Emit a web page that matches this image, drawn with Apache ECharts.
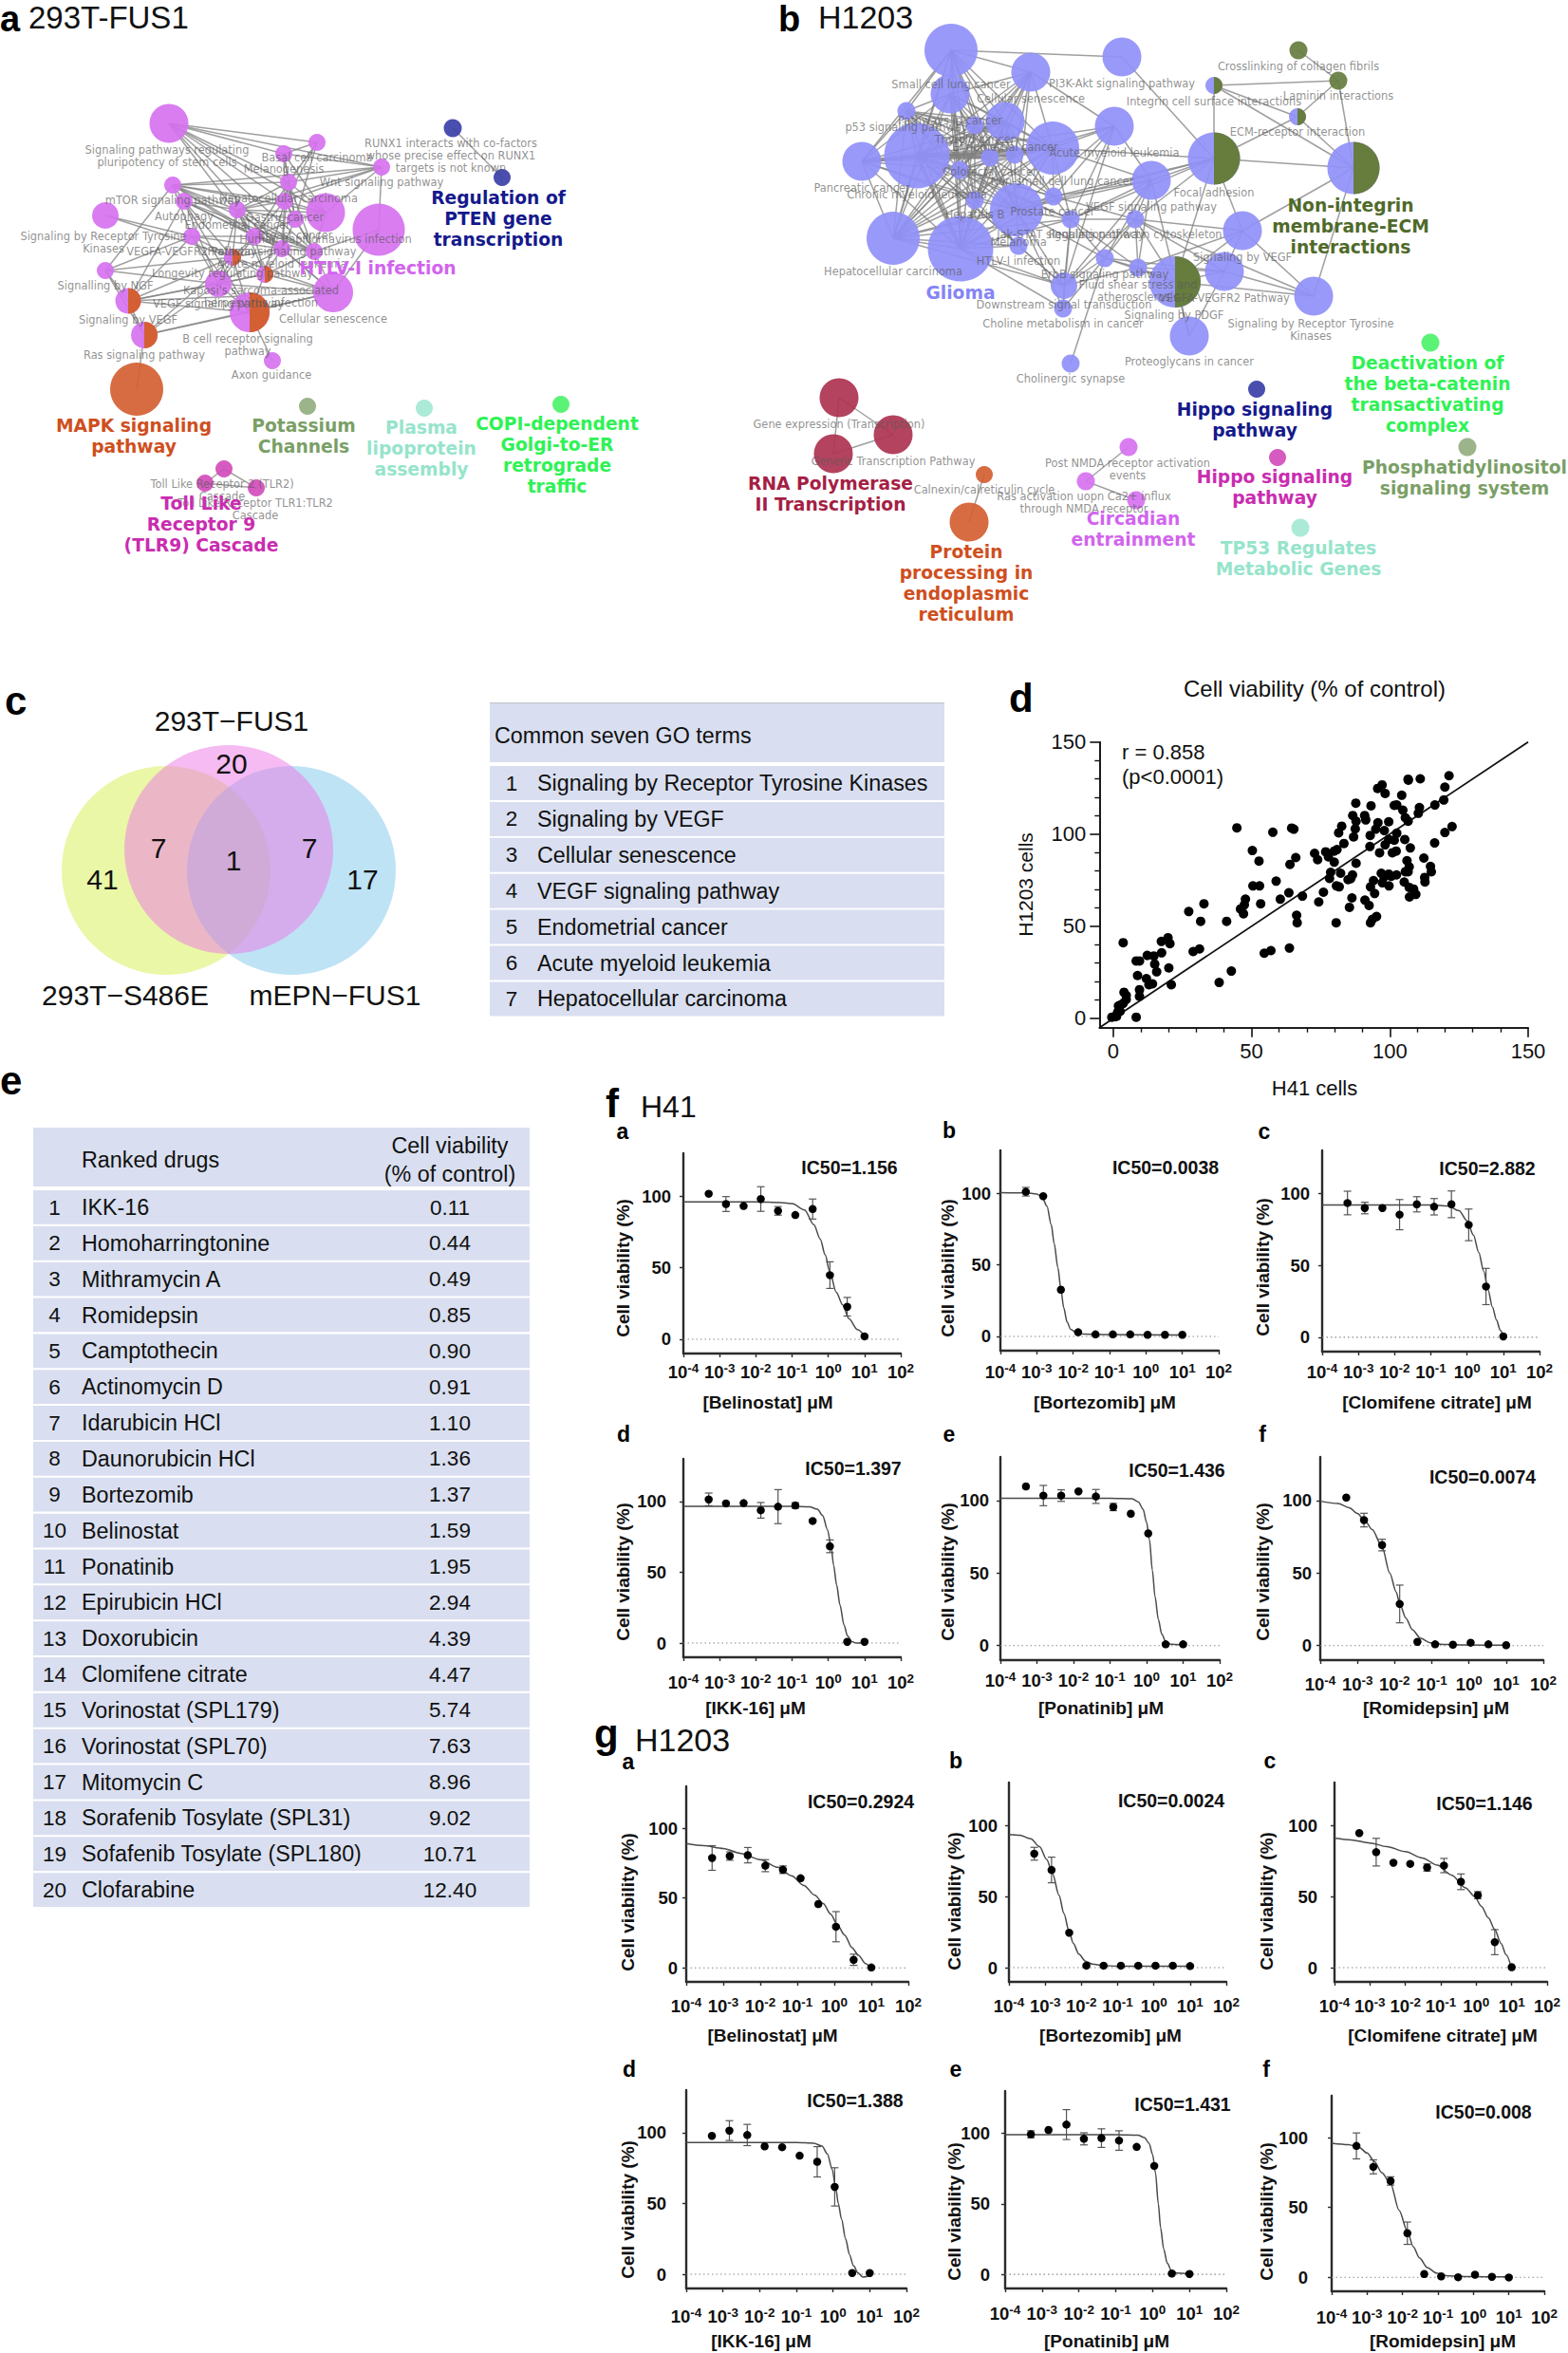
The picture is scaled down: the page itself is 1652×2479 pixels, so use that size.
<!DOCTYPE html>
<html><head><meta charset="utf-8">
<style>html,body{margin:0;padding:0;background:#fff}#c{width:1652px;height:2479px}</style>
<script src="https://cdn.jsdelivr.net/npm/echarts@6/dist/echarts.min.js"></script>
</head><body><div id="c"></div>
<script>
// ---------- DATA ----------
// Network a: [x, y, diameter, cluster]
const netANodes=[[178,130,41,'p'],[334,150,18,'p'],[299,162,18,'p'],[402,176,18,'p'],[182,195,18,'p'],[304,192,18,'p'],[194,212,18,'p'],[300,212,18,'p'],[250,221,18,'p'],[343,224,41,'p'],[399,242,55,'p'],[111,227,28,'p'],[311,231,18,'p'],[202,249,18,'p'],[268,249,18,'p'],[297,262,18,'p'],[331,265,18,'p'],[111,285,18,'p'],[245,271,18,'p'],[279,289,18,'p'],[230,299,28,'p'],[351,308,42,'p'],[135,317,27,'p'],[263,329,42,'p'],[152,353,28,'p'],[287,380,18,'p'],[144,410,56,'o'],[324,428,18,'sage'],[447,430,18,'aqua'],[591,426,18,'lime'],[477,135,19,'navy'],[529,187,18,'navy'],[236,494,18,'mag'],[216,509,18,'mag'],[270,514,18,'mag']];
const netAHalves=[[245,271,18,'o'],[279,289,18,'o'],[135,317,27,'o'],[263,329,42,'o'],[152,353,28,'o']];
const netAEdges=[[1,2,3,4,6,8,10,15,16,17],[2,3,6,8,13],[3,4,6,8,10,13],[4,5,6,8,9,10,11],[5,6,7,8,9,10,14,15,16,17,18],[6,8,9,10,13,15,16,17],[7,9,15,16,17,19,21,23,24],[8,9,10,13,15,16,17,20],[9,10,13,15,16,17,19,20,21,22],[10,13,17],[11,17,22],[12,14,19],[13,15,16,17],[14,15,16,18,19,21,23,24],[15,16,17,19,20,21],[16,17,19,20,21,22],[17,20,22],[18,19,21,23,25],[19,20,21,22,23,24,25],[20,21,22,23,24],[21,22,23,24,25],[22,23,24,25],[23,24,25],[24,25,26],[25,27],[31,32],[33,34,35],[34,35]];
// Network b
const netBNodes=[[1002,53,56,'v'],[1182,60,41,'v'],[1086,76,41,'v'],[1001,99,41,'v'],[955,117,19,'v'],[1059,128,41,'v'],[1027,132,19,'v'],[1174,133,41,'v'],[1109,156,56,'v'],[908,170,41,'v'],[966,164,69,'v'],[1043,166,19,'v'],[1069,163,19,'v'],[1011,179,19,'v'],[1213,190,41,'v'],[1027,211,19,'v'],[1110,207,19,'v'],[1071,221,56,'v'],[941,251,56,'v'],[1012,262,69,'v'],[1128,231,19,'v'],[1196,231,19,'v'],[1073,259,19,'v'],[1309,243,41,'v'],[1164,272,19,'v'],[1199,282,19,'v'],[1290,286,41,'v'],[1238,297,54,'v'],[1121,301,28,'v'],[1384,312,41,'v'],[1120,325,19,'v'],[1253,354,41,'v'],[1128,383,19,'v'],[1368,53,19,'g'],[1410,85,19,'g'],[1279,90,18,'v'],[1367,123,18,'v'],[1279,167,55,'v'],[1426,177,55,'v'],[884,419,41,'c'],[941,458,41,'c'],[878,478,41,'c'],[1037,500,18,'o'],[1021,550,41,'o'],[1189,471,19,'p'],[1144,507,19,'p'],[1197,527,19,'p'],[1324,410,18,'navy'],[1507,361,19,'lime'],[1546,471,19,'sage'],[1346,482,18,'mag'],[1370,556,19,'aqua']];
const netBHalves=[[1238,297,54,'g'],[1279,90,18,'g'],[1367,123,18,'g'],[1279,167,55,'g'],[1426,177,55,'g']];
const netBEdges=[[1,2,3,4,5,6,7,9,10,11,12,13,14,16,18,19,20],[2,38],[3,4,6,7,8,9,11,12,13,14,18,19,20],[4,5,6,7,9,10,11,12,13,14,16,18,19,20],[5,6,7,9,10,11,12,13,14,16,18,19,20],[6,7,9,10,11,12,13,14,16,17,18,19,20],[7,9,11,12,13,14,16,18,19,20],[8,9,11,13,15,17,18,21,29],[9,10,11,12,13,14,15,16,17,18,19,20,21,38],[10,11,12,14,16,18,19,20],[11,12,13,14,16,17,18,19,20,21,23,29],[12,13,14,16,17,18,19,20],[13,14,16,17,18,19,20],[14,16,17,18,19,20,21],[15,17,18,21,22,25,26,29,32,38],[16,18,19,20,23],[17,18,19,20,21,22,38],[18,19,20,21,23,25,29,31,38],[19,20,21,23,29],[20,21,23,29,31],[21,22,25,26,29,31,38],[22,24,25,26,27,28,29,30,38],[23,29],[24,26,27,28,30,38,39],[25,26,27,28,29,31,33],[26,27,28,29],[27,28,30],[28,30,32,38],[29,31],[30,39],[32,27],[38,36,37,39],[36,35,37,39],[35,34,37,39],[37,39],[40,41,42],[41,42],[43,44],[45,46],[46,47]];
const netBThick=[[10,11],[11,12],[11,13],[11,9],[11,20],[6,11]];
// Network term labels: [x, y, text]
const termsA=[[176,164,'Signaling pathways regulating\npluripotency of stem cells'],[334,166,'Basal cell carcinoma'],[299,178,'Melanogenesis'],[475,164,'RUNX1 interacts with co-factors\nwhose precise effect on RUNX1\ntargets is not known'],[402,192,'Wnt signaling pathway'],[182,211,'mTOR signaling pathway'],[304,209,'Hepatocellular carcinoma'],[194,228,'Autophagy'],[300,229,'Gastric cancer'],[250,237,'Endometrial cancer'],[109,255,'Signaling by Receptor Tyrosine\nKinases'],[343,252,'Human papillomavirus infection'],[311,248,'Breast cancer'],[202,265,'VEGFA-VEGFR2 Pathway'],[297,265,'Prolactin signaling pathway'],[297,278,'Acute myeloid leukemia'],[245,288,'Longevity regulating pathway'],[111,301,'Signalling by NGF'],[275,312,"Kaposi's sarcoma-associated\nherpesvirus infection"],[230,320,'VEGF signaling pathway'],[135,337,'Signaling by VEGF'],[351,336,'Cellular senescence'],[261,363,'B cell receptor signaling\npathway'],[152,374,'Ras signaling pathway'],[286,395,'Axon guidance'],[234,516,'Toll Like Receptor 2 (TLR2)\nCascade'],[269,536,'Toll Like Receptor TLR1:TLR2\nCascade']];
const termsB=[[1368,70,'Crosslinking of collagen fibrils'],[1002,89,'Small cell lung cancer'],[1182,88,'PI3K-Akt signaling pathway'],[1410,101,'Laminin interactions'],[1279,107,'Integrin cell surface interactions'],[1086,104,'Cellular senescence'],[1001,127,'Pathways in cancer'],[955,134,'p53 signaling pathway'],[1367,139,'ECM-receptor interaction'],[1027,147,'Thyroid cancer'],[1059,155,'Endometrial cancer'],[1174,161,'Acute myeloid leukemia'],[908,198,'Pancreatic cancer'],[966,205,'Chronic myeloid leukemia'],[1043,181,'Colorectal cancer'],[1119,191,'Non-small cell lung cancer'],[1279,203,'Focal adhesion'],[1027,226,'Hepatitis B'],[1109,223,'Prostate cancer'],[1213,218,'VEGF signaling pathway'],[1128,247,'Jak-STAT signaling pathway'],[1196,247,'Regulation of actin cytoskeleton'],[1073,255,'Melanoma'],[1073,275,'HTLV-I infection'],[1309,271,'Signaling by VEGF'],[941,286,'Hepatocellular carcinoma'],[1164,289,'ErbB signaling pathway'],[1199,306,'Fluid shear stress and\natherosclerosis'],[1290,314,'VEGFA-VEGFR2 Pathway'],[1121,321,'Downstream signal transduction'],[1237,332,'Signaling by PDGF'],[1120,341,'Choline metabolism in cancer'],[1381,347,'Signaling by Receptor Tyrosine\nKinases'],[1253,381,'Proteoglycans in cancer'],[1128,399,'Cholinergic synapse'],[884,447,'Gene expression (Transcription)'],[941,486,'Generic Transcription Pathway'],[1037,516,'Calnexin/calreticulin cycle'],[1188,494,'Post NMDA receptor activation\nevents'],[1142,529,'Ras activation uopn Ca2+ influx\nthrough NMDA receptor']];
// Cluster names: [x, y, text, cluster]
const groupsA=[[398,282,'HTLV-I infection','p'],[525,230,'Regulation of\nPTEN gene\ntranscription','navy'],[141,459,'MAPK signaling\npathway','o'],[320,459,'Potassium\nChannels','sage'],[444,472,'Plasma\nlipoprotein\nassembly','aqua'],[587,479,'COPI-dependent\nGolgi-to-ER\nretrograde\ntraffic','lime'],[212,552,'Toll Like\nReceptor 9\n(TLR9) Cascade','mag']];
const groupsB=[[1012,308,'Glioma','v'],[1423,238,'Non-integrin\nmembrane-ECM\ninteractions','g'],[1504,415,'Deactivation of\nthe beta-catenin\ntransactivating\ncomplex','lime'],[1322,442,'Hippo signaling\npathway','navy'],[1543,503,'Phosphatidylinositol\nsignaling system','sage'],[1343,513,'Hippo signaling\npathway','mag'],[875,520,'RNA Polymerase\nII Transcription','c'],[1194,557,'Circadian\nentrainment','p'],[1368,588,'TP53 Regulates\nMetabolic Genes','aqua'],[1018,614,'Protein\nprocessing in\nendoplasmic\nreticulum','o']];
// Venn
const vennSets=['293T\u2212FUS1','293T\u2212S486E','mEPN\u2212FUS1'];
const vennCounts=['20','7','7','1','41','17'];
const goTerms=['Signaling by Receptor Tyrosine Kinases','Signaling by VEGF','Cellular senescence','VEGF signaling pathway','Endometrial cancer','Acute myeloid leukemia','Hepatocellular carcinoma'];
// Scatter d: [H41, H1203]
const viabilityPairs=[[3.6,41.1],[8.3,0.7],[8.3,31.2],[9.5,31.2],[8.8,23.3],[9.5,15.6],[9.5,12],[3.9,14.2],[4.7,12.5],[4.7,10.3],[2.5,7.2],[1.9,6.8],[0.5,1],[-0.5,0.7],[1.2,1.2],[1.6,3.4],[2.5,3.9],[3.6,8.2],[12.3,34.2],[14.7,33.9],[15,29.5],[15.7,25.3],[17.5,35.6],[17.4,41.8],[19.8,43.8],[20.5,40.6],[20.1,27.4],[21,18.3],[12,21.6],[12.9,18.3],[14.2,18.8],[27.3,58],[28.9,36.3],[31.2,37.7],[31.6,52.7],[32.8,62.2],[38.3,19.5],[41,52.7],[42.7,25.7],[44.7,103.4],[46,59.4],[47.1,56.8],[47.8,64.7],[47.4,61.6],[50.3,91.1],[50.5,71.9],[52.7,85.4],[52.9,71.9],[53.3,62.2],[54.6,35.4],[57,36.8],[57.7,101],[58.9,74.5],[60.4,64.7],[63.5,68.2],[63.7,38.2],[63.9,83.6],[64.5,103.3],[65.3,102.7],[66,87.3],[66.3,56],[66.5,51.9],[68.4,66.4],[72.8,89.6],[73.9,86.1],[74.3,63.2],[76,68.5],[76.8,90.4],[77.8,87.7],[78.2,76],[78.6,79.3],[79.9,84.8],[79.9,90.8],[80.9,91.6],[80.7,71.9],[80.6,51.9],[81.7,71.4],[82.2,78.8],[81.5,100.7],[82.6,104.3],[83.4,94.9],[84.9,75.3],[85.9,75.9],[85.4,60.3],[86.5,77.9],[86.3,65.4],[86.9,98.5],[86.6,110.1],[87.5,102.9],[87.8,107],[87.7,116.8],[87.8,84.2],[90.9,110.1],[91.3,107.7],[91,64.2],[92.5,61.3],[93.2,115.4],[92.9,99.3],[92.8,93.3],[93,71.4],[94.1,74.8],[94.5,67.8],[93,51.9],[93.7,53.8],[95.2,55.3],[95.6,124.8],[97.2,126.7],[98.3,122.1],[94.9,102.7],[95.7,106.2],[96.3,89.9],[98,101.9],[99.6,106.7],[98.3,94.2],[96.9,78.8],[97.3,73.6],[97.9,76.7],[99.6,78.3],[99.7,71.9],[100.5,77.1],[102.4,77.9],[100.9,89.9],[99.6,97.1],[101.6,96.7],[102.3,90.8],[102.5,100.5],[101.6,115.6],[102.5,115.8],[104.3,121.1],[104.7,113],[105.6,108.9],[106.6,107],[105.4,97.1],[105.2,74],[106.2,85.6],[107,82.2],[106.6,79.6],[105.6,79.6],[107,71.1],[107.4,92.5],[107.1,65.9],[108.6,70.2],[109.4,67.3],[106.6,129.8],[106.7,129.3],[111,130],[110.3,111.3],[110.7,114.4],[112.3,87],[112.6,76.5],[112.7,74],[114.7,82.5],[115,79.6],[116.2,95.2],[116.3,115.8],[119.5,118.5],[119.9,125.5],[121.4,131.7],[119.9,100.9],[122.5,104.1]];
const identityLine=[[-5,-5],[150,150]];
// Table e
const rankedDrugs=['IKK-16','Homoharringtonine','Mithramycin A','Romidepsin','Camptothecin','Actinomycin D','Idarubicin HCl','Daunorubicin HCl','Bortezomib','Belinostat','Ponatinib','Epirubicin HCl','Doxorubicin','Clomifene citrate','Vorinostat (SPL179)','Vorinostat (SPL70)','Mitomycin C','Sorafenib Tosylate (SPL31)','Sofafenib Tosylate (SPL180)','Clofarabine'];
const rankedViability=['0.11','0.44','0.49','0.85','0.90','0.91','1.10','1.36','1.37','1.59','1.95','2.94','4.39','4.47','5.74','7.63','8.96','9.02','10.71','12.40'];
// Dose response
const doses=[0.0005,0.0015,0.0046,0.0137,0.041,0.123,0.37,1.11,3.33,10];
const drugLabels=['Belinostat','Bortezomib','Clomifene citrate','IKK-16','Ponatinib','Romidepsin'];
const ic50H41=['1.156','0.0038','2.882','1.397','1.436','0.0074'];
const ic50H1203=['0.2924','0.0024','1.146','1.388','1.431','0.008'];
const h41Viab=[[101.7,94.5,93.1,98,89.7,86.8,91,44.8,22.7,2],[101.1,98,32.6,2.9,1.4,1.4,1.4,1.1,1.1,1.1],[93.4,89.9,89.9,85.3,92.5,90.8,92.5,78.2,35.3,0.6],[101.4,98.6,98.8,93.7,96.3,97.1,86.2,68.3,0.9,0.9],[109.7,103.4,103.4,106.3,102.8,95.5,90.9,77.3,0.9,0.9],[102,86.5,69.3,28.7,2.6,0.9,0.6,2,0.9,0.3]];
const h41Err=[[0,5.2,0,8.6,3,0,7,9.3,6.5,0],[3,0,0,0,0,0,0,0,0,0],[8.2,4,0,10.5,5.3,5.7,9.3,11,12.6,0],[4.5,0,0,5.5,12,2,0,4.5,0,0],[0,7,4,0,4.8,2.5,0,0,0,0],[0,4.7,4,13,0,0,0,0,0,0]];
const h41Curves=[
[[0.0001,96],[0.01,96],[0.05,95.5],[0.1,94.8],[0.22,90.4],[0.4,80],[0.6,70],[0.82,59],[1.1,47],[1.65,33],[2.5,24],[3.7,14.4],[6.4,6.7],[10,2.2]],
[[0.0001,100.5],[0.0005,100.3],[0.001,99.5],[0.0014,97.5],[0.0019,91],[0.0025,78],[0.003,65],[0.0038,48],[0.0046,33],[0.0055,20],[0.0068,10],[0.0085,5],[0.012,2.8],[0.02,1.6],[0.05,1.2],[10,1]],
[[0.0001,92],[0.1,92],[0.3,91.3],[0.6,88],[1,81],[1.5,71],[2.1,59],[2.88,46],[3.8,33],[5,21],[6.5,12],[8.2,5],[10,0.5]],
[[0.0001,96.5],[0.1,96.5],[0.3,96.2],[0.5,94.5],[0.7,90],[0.95,80],[1.2,68],[1.4,55],[1.7,41],[2.1,27],[2.7,13],[3.4,5],[4.5,1],[6,0],[10,0]],
[[0.0001,101.5],[0.1,101.5],[0.4,101.2],[0.6,99],[0.8,94],[1,85],[1.2,73],[1.44,52],[1.7,34],[2.1,18],[2.6,8],[3.3,3],[4.5,1],[10,0.5]],
[[0.0001,99.5],[0.0003,98],[0.0006,95],[0.001,91],[0.0015,87],[0.0025,80],[0.0046,68],[0.0074,50],[0.011,37],[0.0137,29],[0.02,19],[0.03,11],[0.05,5],[0.09,2],[0.2,0.8],[1,0.4],[10,0.3]]];
const h1203Viab=[[78.7,80.1,80.7,73.2,70.3,64.2,45.7,29.5,5.8,0.3],[80,68.6,24.5,1.4,1.4,1.4,1.4,1.4,1.4,1.1],[94.5,81.1,73.7,72.9,70.3,71.7,60.3,50.9,17.9,0.3],[97.7,101.4,98.3,90.3,89.7,83.7,79.4,61.7,0.9,0.9],[99.3,102.4,106.2,96.1,96.6,94.9,90.4,76.9,0.6,0.3],[94.1,79.1,69,31.6,2.4,0.7,0.1,1.9,0.4,-0.1]];
const h1203Err=[[8.8,3,5.5,4.3,2.7,0,0,10.8,4,0],[4.5,9,0,0,0,0,0,0,0,0],[0,9.7,0,0,2.5,5,5.5,2.5,8.8,0],[0,7,7.5,0,0,0,10.7,13.5,0,0],[2.5,0,10.6,4.3,6.6,6.9,0,0,0,0],[9.3,5,3,8,0,0,0,0,0,0]];
const h1203Curves=[
[[0.0001,89],[0.0003,87.5],[0.001,85.5],[0.003,82],[0.01,77.5],[0.03,72],[0.07,66],[0.15,59],[0.3,52],[0.5,46],[0.8,38.5],[1.2,31],[1.9,23.5],[3,14.5],[4.5,9],[7,3],[10,-1]],
[[0.0001,93.5],[0.0002,93],[0.0004,90.5],[0.0007,85],[0.0011,76],[0.0016,66],[0.0024,51],[0.0033,38],[0.0045,26],[0.006,17],[0.0085,9.5],[0.013,4.5],[0.02,2.5],[0.04,1.5],[0.1,1],[10,1]],
[[0.0001,91],[0.0003,89.7],[0.001,87.5],[0.003,85],[0.01,81.5],[0.03,77],[0.08,72],[0.2,65],[0.5,56],[0.9,50],[1.4,43],[2.2,35],[3.3,27],[5,17],[7,9],[10,-1]],
[[0.0001,93],[0.1,93],[0.3,92.5],[0.5,90.5],[0.7,85],[0.95,74],[1.2,60],[1.39,50],[1.7,39],[2.2,25],[2.8,14],[3.6,6],[4.8,1],[6.5,-2],[10,-1]],
[[0.0001,99],[0.1,99],[0.4,98.7],[0.6,97],[0.8,93],[1,85],[1.2,72],[1.43,50],[1.65,33],[2,18],[2.5,8],[3.2,3],[4.5,1],[10,0.5]],
[[0.0001,96],[0.0003,95],[0.0006,93],[0.001,89],[0.0016,83],[0.0026,75],[0.0046,67],[0.008,48],[0.0137,33],[0.02,22],[0.03,14],[0.05,7],[0.09,3],[0.2,1],[1,0.5],[10,0.3]]];

// ---------- LAYOUT / STYLE ----------
const W=1652,H=2479;
const clusterColor={p:'#d672f0',o:'#d45f32',sage:'#93ae80',aqua:'#a3e8d3',lime:'#4df26a',navy:'#3a3fa8',mag:'#d24dbb',v:'#9090f8',g:'#667d3e',c:'#ad3350'};
const labelColor={p:'#d264ee',o:'#cf4f1e',sage:'#7a9f66',aqua:'#96e4cb',lime:'#2ef254',navy:'#15198c',mag:'#c92db0',v:'#8585f5',g:'#4f6a2a',c:'#a51f45'};
const AR='"Liberation Sans",Arial,sans-serif';
const DJ='"DejaVu Sans",sans-serif';
// [left, top, right, bottom] of each small plot
const boxesF=[[720,1215,949,1426],[1054,1212,1284,1423],[1393,1212,1622,1424],[720,1537,949,1746],[1054,1535,1285,1749],[1391,1535,1626,1749]];
const boxesG=[[723,1882,957,2088],[1063,1878,1292,2088],[1406,1878,1630,2088],[723,2202,955,2411],[1059,2203,1292,2411],[1403,2208,1627,2414]];
const yMarginF=[13,10,13,18,12,9],yMarginG=[9,12,18,21,16,25];
const xMarginF=[8,11,10,15,10,14],xMarginG=[14,14,14,18,15,16];
const icPosF=[[895,1230],[1228,1230],[1567,1231],[899,1547],[1240,1549],[1562,1556]];
const icPosG=[[907,1898],[1234,1897],[1564,1900],[901,2213],[1246,2217],[1563,2225]];
const letterPosF=[[656,1192],[1000,1191],[1332,1192],[657,1511],[1000,1511],[1330,1511]];
const letterPosG=[[662,1856],[1007,1855],[1338,1855],[663,2180],[1007,2180],[1334,2180]];
const nameXYF=[[809,1477],[1164,1477],[1514,1477],[796,1799],[1160,1799],[1513,1799]];
const nameXYG=[[814,2144],[1170,2144],[1520,2144],[802,2466],[1166,2466],[1520,2466]];
const yTitleF=[[656,1336],[998,1336],[1330,1335],[656,1656],[998,1656],[1330,1656]];
const yTitleG=[[661,2004],[1005,2003],[1334,2003],[661,2328],[1005,2330],[1334,2330]];
const letters='abcdef';

// ---------- BUILD ----------
const grids=[{left:0,top:0,width:W,height:H}];
const xAxes=[{type:'value',gridIndex:0,min:0,max:W,show:false}];
const yAxes=[{type:'value',gridIndex:0,min:0,max:H,inverse:true,show:false}];
const series=[];
const gfx=[];
function txt(x,y,text,o){o=o||{};gfx.push({type:'text',x:x,y:y,rotation:o.rot||0,z:o.z||100,silent:true,style:{text:text,align:o.align||'center',verticalAlign:'middle',fontFamily:o.family||AR,fontSize:o.size||20,fontWeight:o.weight||'normal',fill:o.fill||'#111',lineHeight:o.lh}});}
function rect(x,y,w,h,fill){gfx.push({type:'rect',z:1,silent:true,shape:{x:x,y:y,width:w,height:h},style:{fill:fill}});}

function addNetwork(nodes,edges,halves,thick){
  const links=[];
  edges.forEach(function(row){for(let i=1;i<row.length;i++){
    const w=thick.some(function(t){return (t[0]===row[0]&&t[1]===row[i])||(t[1]===row[0]&&t[0]===row[i]);})?4:1.5;
    links.push({source:row[0]-1,target:row[i]-1,lineStyle:{width:w}});}});
  series.push({type:'graph',coordinateSystem:'cartesian2d',xAxisIndex:0,yAxisIndex:0,silent:true,z:3,
    data:nodes.map(function(n,i){return {name:'n'+i,value:[n[0],n[1]],symbolSize:n[2],itemStyle:{color:clusterColor[n[3]],opacity:.92}};}),
    links:links,lineStyle:{color:'#7f7f7f',opacity:.75,width:1.5},label:{show:false}});
  series.push({type:'custom',coordinateSystem:'cartesian2d',xAxisIndex:0,yAxisIndex:0,silent:true,z:4,clip:false,
    data:halves.map(function(h){return [h[0],h[1],h[2]];}),encode:{x:0,y:1},
    renderItem:function(p,api){const c=api.coord([api.value(0),api.value(1)]);
      return {type:'sector',shape:{cx:c[0],cy:c[1],r:api.value(2)/2,r0:0,startAngle:-Math.PI/2,endAngle:Math.PI/2},style:{fill:clusterColor[halves[p.dataIndex][3]]}};}});
}
addNetwork(netANodes,netAEdges,netAHalves,[]);
addNetwork(netBNodes,netBEdges,netBHalves,netBThick);
const termStyle={family:DJ,size:11.4,lh:13,fill:'rgba(90,90,90,0.68)',z:101};
termsA.forEach(function(t){txt(t[0],t[1],t[2],termStyle);});
termsB.forEach(function(t){txt(t[0],t[1],t[2],termStyle);});
groupsA.forEach(function(t){txt(t[0],t[1],t[2],{family:DJ,size:18.7,lh:22,weight:'bold',fill:labelColor[t[3]],z:102});});
groupsB.forEach(function(t){txt(t[0],t[1],t[2],{family:DJ,size:18.7,lh:22,weight:'bold',fill:labelColor[t[3]],z:102});});

// panel headings
[['a',0,20,38],['b',820,20,38],['c',5,738,42],['d',1063,735,42],['e',0,1138,42],['f',638,1162,42],['g',626,1826,42]].forEach(function(l){txt(l[1],l[2],l[0],{align:'left',size:l[3],weight:'bold',fill:'#000'});});
txt(30,18,'293T-FUS1',{align:'left',size:33,fill:'#111'});
txt(862,18,'H1203',{align:'left',size:34,fill:'#111'});
txt(675,1166,'H41',{align:'left',size:32,fill:'#111'});
txt(669,1833,'H1203',{align:'left',size:34,fill:'#111'});

// Venn circles, drawn from the layout grid
[[175,917,'rgba(214,240,80,0.5)'],[307,917,'rgba(125,200,235,0.5)'],[241,895,'rgba(235,120,230,0.5)']].forEach(function(v){
  series.push({type:'scatter',xAxisIndex:0,yAxisIndex:0,silent:true,symbol:'circle',symbolSize:220,z:2,data:[[v[0],v[1]]],itemStyle:{color:v[2],opacity:1}});});
txt(244,759,vennSets[0],{size:30});txt(132,1048,vennSets[1],{size:30});txt(353,1048,vennSets[2],{size:30});
[[244,804],[167,893],[326,893],[246,906],[108,926],[382,926]].forEach(function(p,i){txt(p[0],p[1],vennCounts[i],{size:30});});

// Table c
rect(516,741,479,62,'#d9dff0');
rect(516,740,479,1.5,'#c9ccd6');
txt(521,775,'Common seven GO terms',{align:'left',size:23.3});
goTerms.forEach(function(t,i){const y=807+i*37.9;rect(516,y,479,36,'#d9dff0');txt(539,y+18,String(i+1),{size:22.5});txt(566,y+18,t,{align:'left',size:23.3});});
// Table e
rect(35,1188,523,62,'#d9dff0');
txt(86,1222,'Ranked drugs',{align:'left',size:23.3});
txt(474,1207,'Cell viability',{size:23.3});txt(474,1237,'(% of control)',{size:23.3});
rankedDrugs.forEach(function(t,i){const y=1254+i*37.85;rect(35,y,523,35.8,'#d9dff0');txt(57.5,y+18,String(i+1),{size:22.5});txt(86,y+18,t,{align:'left',size:23.3});txt(474,y+18,rankedViability[i],{size:22.5});});

// Panel d
(function(){
  const g=grids.length;grids.push({left:1158.3,top:781.7,width:451.7,height:301});
  const majors=[0,50,100,150],minors=[10,20,30,40,60,70,80,90,110,120,130,140];
  const line={onZero:false,lineStyle:{color:'#111',width:1.6}};
  const lab={customValues:majors,fontFamily:AR,fontSize:22,color:'#111',margin:14};
  const xi=xAxes.length,yi=yAxes.length;
  xAxes.push({type:'value',gridIndex:g,min:-5,max:150,position:'bottom',axisLine:line,splitLine:{show:false},axisLabel:lab,axisTick:{customValues:majors,length:10,lineStyle:{color:'#111',width:1.6}}});
  yAxes.push({type:'value',gridIndex:g,min:-5,max:150,position:'left',axisLine:line,splitLine:{show:false},axisLabel:lab,axisTick:{customValues:majors,length:10,lineStyle:{color:'#111',width:1.6}}});
  xAxes.push({type:'value',gridIndex:g,min:-5,max:150,position:'bottom',axisLine:line,splitLine:{show:false},axisLabel:{show:false},axisTick:{customValues:minors,length:5,lineStyle:{color:'#111',width:1.4}}});
  yAxes.push({type:'value',gridIndex:g,min:-5,max:150,position:'left',axisLine:line,splitLine:{show:false},axisLabel:{show:false},axisTick:{customValues:minors,length:5,lineStyle:{color:'#111',width:1.4}}});
  series.push({type:'line',xAxisIndex:xi,yAxisIndex:yi,data:identityLine,showSymbol:false,symbol:'none',lineStyle:{color:'#111',width:1.8},silent:true,z:3});
  series.push({type:'scatter',xAxisIndex:xi,yAxisIndex:yi,data:viabilityPairs,symbolSize:10,itemStyle:{color:'#000',opacity:1},silent:true,z:4});
  txt(1385,725,'Cell viability (% of control)',{size:24});
  txt(1182,792,'r = 0.858',{align:'left',size:22});
  txt(1182,818,'(p<0.0001)',{align:'left',size:22});
  txt(1385,1146,'H41 cells',{size:22});
  txt(1080,932,'H1203 cells',{size:21,rot:Math.PI/2});
})();

// Dose-response plots
function addDose(i,box,viab,err,curve,ic,yM,xM,icPos,letPos,nameXY,yT){
  const g=grids.length;grids.push({left:box[0],top:box[1],width:box[2]-box[0],height:box[3]-box[1]});
  const xi=xAxes.length,yi=yAxes.length;
  const axis={onZero:false,lineStyle:{color:'#2b2b2b',width:2.4}};
  xAxes.push({type:'log',logBase:10,gridIndex:g,min:0.0001,max:100,splitNumber:6,position:'bottom',axisLine:axis,splitLine:{show:false},minorTick:{show:false},
    axisTick:{show:true,length:4,lineStyle:{color:'#2b2b2b',width:1.4}},
    axisLabel:{margin:xM,interval:0,showMinLabel:true,showMaxLabel:true,hideOverlap:false,formatter:function(v){return '{b|10}{s|'+Math.round(Math.log10(v))+'}';},
      rich:{b:{fontFamily:AR,fontWeight:'bold',fontSize:18.5,lineHeight:21,color:'#111',verticalAlign:'bottom'},s:{fontFamily:AR,fontWeight:'bold',fontSize:13.5,lineHeight:21,color:'#111',verticalAlign:'top'}}}});
  yAxes.push({type:'value',gridIndex:g,min:-10,max:130,position:'left',axisLine:axis,splitLine:{show:false},
    axisTick:{customValues:[0,50,100],length:4,lineStyle:{color:'#2b2b2b',width:1.4}},
    axisLabel:{customValues:[0,50,100],margin:yM,fontFamily:AR,fontWeight:'bold',fontSize:18.5,color:'#111'}});
  series.push({type:'line',xAxisIndex:xi,yAxisIndex:yi,data:[[0.0001,0],[100,0]],symbol:'none',silent:true,z:2,lineStyle:{color:'#8a8a8a',width:1.1,type:[1.5,3]}});
  series.push({type:'line',xAxisIndex:xi,yAxisIndex:yi,data:curve,symbol:'none',smooth:0.3,smoothMonotone:'x',silent:true,z:3,lineStyle:{color:'#4a4a4a',width:1.5}});
  const bars=doses.map(function(d,k){return [d,viab[k]-err[k],viab[k]+err[k]];}).filter(function(_,k){return err[k]>0;});
  series.push({type:'custom',xAxisIndex:xi,yAxisIndex:yi,silent:true,z:3,data:bars,encode:{x:0,y:[1,2]},
    renderItem:function(p,api){const a=api.coord([api.value(0),api.value(1)]),b=api.coord([api.value(0),api.value(2)]),s={stroke:'#555',lineWidth:1.2,fill:'none'};
      return {type:'group',children:[{type:'line',shape:{x1:a[0],y1:a[1],x2:b[0],y2:b[1]},style:s},{type:'line',shape:{x1:a[0]-4,y1:a[1],x2:a[0]+4,y2:a[1]},style:s},{type:'line',shape:{x1:b[0]-4,y1:b[1],x2:b[0]+4,y2:b[1]},style:s}]};}});
  series.push({type:'scatter',xAxisIndex:xi,yAxisIndex:yi,silent:true,z:4,symbolSize:8.5,itemStyle:{color:'#000',opacity:1},data:doses.map(function(d,k){return [d,viab[k]];})});
  txt(icPos[0],icPos[1],'IC50='+ic,{size:19.5,weight:'bold'});
  txt(letPos[0],letPos[1],letters[i],{size:23,weight:'bold',fill:'#000'});
  txt(nameXY[0],nameXY[1],'['+drugLabels[i]+'] \u03bcM',{size:19,weight:'bold'});
  txt(yT[0],yT[1],'Cell viability (%)',{size:19,weight:'bold',rot:Math.PI/2});
}
for(let i=0;i<6;i++)addDose(i,boxesF[i],h41Viab[i],h41Err[i],h41Curves[i],ic50H41[i],yMarginF[i],xMarginF[i],icPosF[i],letterPosF[i],nameXYF[i],yTitleF[i]);
for(let i=0;i<6;i++)addDose(i,boxesG[i],h1203Viab[i],h1203Err[i],h1203Curves[i],ic50H1203[i],yMarginG[i],xMarginG[i],icPosG[i],letterPosG[i],nameXYG[i],yTitleG[i]);

const chart=echarts.init(document.getElementById('c'),null,{renderer:'svg',width:W,height:H});
chart.setOption({animation:false,backgroundColor:'#fff',tooltip:{show:false},grid:grids,xAxis:xAxes,yAxis:yAxes,series:series,graphic:{elements:gfx}});
</script></body></html>
